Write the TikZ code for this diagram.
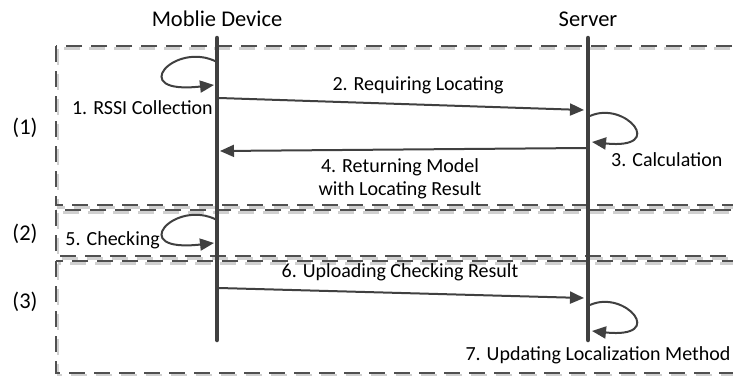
\documentclass[tikz,border=0pt]{standalone}
\usepackage{fontspec}
\setmainfont{Carlito}
\usetikzlibrary{arrows.meta}
\definecolor{linegray}{HTML}{404040}
\definecolor{zonegray}{HTML}{505050}
\definecolor{shadegray}{HTML}{D0D0D0}
\begin{document}
\begin{tikzpicture}[x=1pt,y=-1pt,
  lifeline/.style={line width=4.5pt, draw=linegray, line cap=round},
  msg/.style={line width=2pt, draw=linegray, -{Triangle[length=14pt,width=12pt]}},
  zone/.style={line width=2.6pt, draw=zonegray, dash pattern=on 16pt off 9pt},
  zoneshade/.style={line width=2.6pt, draw=shadegray, dash pattern=on 16pt off 9pt},
  lbl/.style={font=\fontsize{20}{23}\selectfont, text=black, inner sep=0pt},
  ttl/.style={font=\fontsize{22.5}{26}\selectfont, text=black, inner sep=0pt},
]
\useasboundingbox (0,0) rectangle (733,375);

% phase zones, each with a light offset shadow
\foreach \ya/\yb in {46/205, 210/256, 261/373} {
  \draw[zoneshade] (58,\ya+2.5) rectangle (760,\yb+2.5);
  \draw[zone] (56,\ya) rectangle (760,\yb);
}

% lifelines
\coordinate (mdtop) at (217,38);
\coordinate (mdbot) at (217,340);
\coordinate (svtop) at (588,38);
\coordinate (svbot) at (588,340);
\draw[lifeline] (mdtop) -- (mdbot);
\draw[lifeline] (svtop) -- (svbot);

\node[ttl] (mdtitle) at (217,19) {Moblie Device};
\node[ttl] (svtitle) at (588,19) {Server};

\node[ttl] (z1) at (25,128) {(1)};
\node[ttl] (z2) at (25,234) {(2)};
\node[ttl] (z3) at (25,302) {(3)};

% message endpoints
\coordinate (l1a) at (217,62);  \coordinate (l1b) at (214,85);
\coordinate (m2a) at (219,98);  \coordinate (m2b) at (584,110);
\coordinate (l3a) at (590,116); \coordinate (l3b) at (592,142);
\coordinate (m4a) at (586,148); \coordinate (m4b) at (220,151);
\coordinate (l5a) at (217,220); \coordinate (l5b) at (214,243);
\coordinate (m6a) at (219,288); \coordinate (m6b) at (584,298);
\coordinate (l7a) at (590,305); \coordinate (l7b) at (592,331);

% 1. self message on the device
\draw[msg] (l1a) .. controls (175,40) and (125,95) .. (l1b);
\node[lbl, anchor=east] (t1) at (213,108) {1. RSSI Collection};

% 2. request
\draw[msg] (m2a) -- (m2b);
\node[lbl] (t2) at (418,85) {2. Requiring Locating};

% 3. calculation on the server
\draw[msg] (l3a) .. controls (625,100) and (668,150) .. (l3b);
\node[lbl, anchor=west] (t3) at (611,160) {3. Calculation};

% 4. reply
\draw[msg] (m4a) -- (m4b);
\node[lbl, align=center] (t4) at (400,179) {4. Returning Model\\with Locating Result};

% 5. checking on the device
\draw[msg] (l5a) .. controls (175,198) and (125,253) .. (l5b);
\node[lbl, anchor=east] (t5) at (160,240) {5. Checking};

% 6. upload
\draw[msg] (m6a) -- (m6b);
\node[lbl] (t6) at (400,272) {6. Uploading Checking Result};

% 7. update on the server
\draw[msg] (l7a) .. controls (625,289) and (668,339) .. (l7b);
\node[lbl] (t7) at (598,355) {7. Updating Localization Method};
\end{tikzpicture}
\end{document}
